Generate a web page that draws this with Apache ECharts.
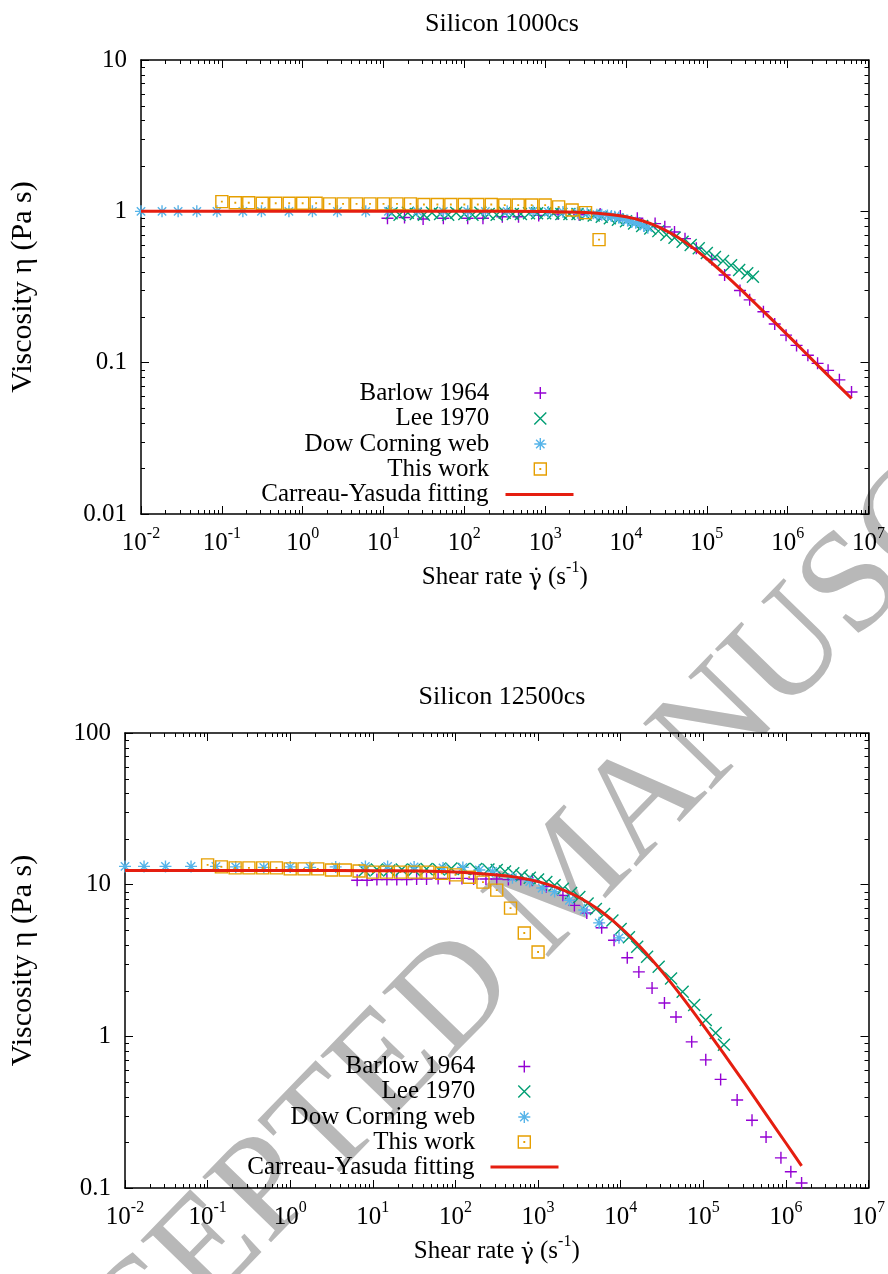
<!DOCTYPE html>
<html><head><meta charset="utf-8">
<script src="https://cdn.jsdelivr.net/npm/echarts@6/dist/echarts.min.js"></script>
<style>html,body{margin:0;padding:0;background:#fff}#c{width:888px;height:1274px}</style>
</head><body><div id="c"></div>
<script>
const FONT = 'Liberation Serif';
const titles = ['Silicon 1000cs', 'Silicon 12500cs'];
const seriesNames = ['Barlow 1964', 'Lee 1970', 'Dow Corning web', 'This work', 'Carreau-Yasuda fitting'];
const xTickLabels = ['-2','-1','0','1','2','3','4','5','6','7'];
const yTopTickLabels = ['0.01','0.1','1','10'];
const yBotTickLabels = ['0.1','1','10','100'];
const minorMult = [2,3,4,5,6,7,8,9];
const xDecades = [0.01,0.1,1,10,100,1000,10000,100000,1000000];
const yTopDecades = [0.01,0.1,1];
const yBotDecades = [0.1,1,10];

// ---------- Silicon 1000cs ----------
const topBarlow = [[11.2,0.90],[18.2,0.91],[30.9,0.89],[55.0,0.90],[110,0.90],[170,0.90],[295,0.92],[468,0.92],[832,0.94],[1445,0.96],[2630,0.95],[4786,0.96],[8511,0.93],[13800,0.90],[22910,0.83],[30200,0.79],[39810,0.73],[53700,0.66],[74130,0.57],[114800,0.48],[166000,0.38],[257000,0.30],[338800,0.26],[501200,0.217],[691800,0.18],[955000,0.152],[1288000,0.13],[1778000,0.112],[2344000,0.099],[3162000,0.089],[4365000,0.077],[6166000,0.064]];
const topLee = [[12.6,0.97],[15.8,0.95],[20.0,0.98],[25.1,0.96],[31.6,0.95],[39.8,0.98],[50.1,0.96],[63.1,0.95],[79.4,0.98],[100,0.96],[126,0.95],[158,0.98],[200,0.96],[251,0.95],[316,0.98],[398,0.96],[501,0.96],[631,0.97],[794,0.97],[1000,0.97],[1259,0.97],[1585,0.96],[1995,0.96],[2512,0.96],[3162,0.95],[3981,0.94],[5012,0.92],[6310,0.90],[7943,0.88],[10000,0.86],[12590,0.83],[15850,0.80],[19950,0.77],[25120,0.74],[31620,0.70],[39810,0.67],[50120,0.63],[63100,0.60],[79430,0.57],[100000,0.53],[125900,0.50],[158500,0.47],[199500,0.44],[251200,0.41],[316200,0.39],[371500,0.37]];
const topDow = [[0.01,1.0],[0.0182,1.0],[0.0288,1.0],[0.049,1.0],[0.087,1.0],[0.182,1.0],[0.309,1.0],[0.676,1.0],[1.32,1.0],[2.69,1.0],[6.03,1.0],[11.5,1.0],[26.3,1.0],[55.0,1.0],[110,1.0],[182,1.0],[339,1.0],[708,1.0],[1096,0.99],[1660,0.99],[2512,0.98],[3311,0.97],[4365,0.95],[5012,0.95],[5888,0.94],[6607,0.93],[7244,0.92],[8128,0.91],[9120,0.89],[10470,0.87],[11750,0.85],[13180,0.84],[14790,0.83],[16600,0.80],[18620,0.78]];
const topThisWork = [[0.1,1.16],[0.1468,1.14],[0.2154,1.14],[0.3162,1.13],[0.4642,1.13],[0.6813,1.13],[1,1.13],[1.468,1.13],[2.154,1.12],[3.162,1.12],[4.642,1.12],[6.813,1.12],[10,1.12],[14.68,1.12],[21.54,1.12],[31.62,1.11],[46.42,1.11],[68.13,1.11],[100,1.11],[146.8,1.11],[215.4,1.11],[316.2,1.10],[464.2,1.10],[681.3,1.10],[1000,1.10],[1468,1.07],[2154,1.02],[3162,0.98],[4642,0.65]];
const topFit = [[0.01,1.0],[0.1,1.0],[1,1.0],[10,1.0],[100,1.0],[1000,0.996],[3162,0.981],[6310,0.954],[10000,0.92],[15850,0.866],[25120,0.79],[39810,0.695],[63100,0.589],[100000,0.486],[158500,0.392],[251200,0.312],[398100,0.246],[631000,0.194],[1000000,0.152],[1585000,0.119],[2512000,0.093],[3981000,0.073],[6166000,0.058]];

// ---------- Silicon 12500cs ----------
const botBarlow = [[6.46,10.7],[8.51,10.7],[11.2,10.8],[14.8,10.8],[19.5,10.8],[25.7,10.8],[33.9,10.9],[44.7,10.9],[61.7,11.0],[85.1,11.0],[120,11.0],[166,10.9],[234,10.9],[316,10.9],[437,10.8],[617,10.8],[851,10.7],[1259,9.7],[2000,8.5],[2754,7.3],[3890,6.5],[5888,5.2],[8318,4.3],[12020,3.3],[16600,2.66],[23990,2.08],[33880,1.66],[46770,1.34],[72440,0.92],[107200,0.70],[162200,0.52],[257000,0.38],[389000,0.28],[575400,0.217],[871000,0.158],[1148000,0.128],[1549000,0.108]];
const botLee = [[7.94,12.4],[11.2,12.6],[15.8,12.4],[22.4,12.6],[31.6,12.5],[44.7,12.7],[63.1,12.6],[89.1,12.8],[126,12.7],[178,12.7],[251,12.6],[316,12.5],[398,12.2],[501,11.9],[631,11.5],[794,11.1],[1000,10.8],[1259,10.4],[1585,9.9],[1995,9.4],[2512,8.8],[3162,8.3],[3981,7.5],[5012,6.9],[6310,6.4],[7943,5.8],[10000,5.1],[12590,4.5],[15850,3.9],[20890,3.35],[28840,2.88],[40740,2.41],[56230,1.97],[77620,1.61],[107200,1.28],[141300,1.05],[177800,0.88]];
const botDow = [[0.01,13.2],[0.017,13.2],[0.0309,13.2],[0.063,13.2],[0.126,13.2],[0.219,13.1],[0.479,13.0],[1.0,13.1],[1.74,13.0],[3.55,13.1],[8.13,13.2],[15.1,13.2],[31.6,13.1],[70.8,12.9],[123,13.0],[195,12.5],[282,12.2],[490,11.1],[794,10.5],[1122,9.5],[1585,9.0],[2399,7.9],[3631,6.8],[5495,5.6],[9550,4.46]];
const botThisWork = [[0.1,13.5],[0.1468,13.1],[0.2154,12.9],[0.3162,12.9],[0.4642,12.9],[0.6813,12.9],[1,12.7],[1.468,12.7],[2.154,12.7],[3.162,12.5],[4.642,12.5],[6.813,12.3],[10,12.1],[14.68,12.1],[21.54,12.1],[31.62,12.1],[46.42,12.1],[68.13,11.9],[100,11.6],[146.8,11.2],[215.4,10.4],[316.2,9.2],[464.2,7.0],[681.3,4.8],[1000,3.6]];
const botFit = [[0.01,12.4],[0.1,12.4],[1,12.4],[10,12.36],[31.6,12.3],[100,12.12],[316,11.6],[562,11.17],[1000,10.48],[1778,9.5],[3162,8.23],[5623,6.75],[10000,5.22],[17780,3.82],[31620,2.67],[56230,1.80],[100000,1.18],[177800,0.765],[316200,0.491],[562300,0.312],[1000000,0.198],[1549000,0.140]];

const colors = ['#9400d3', '#009e73', '#56b4e9', '#e69f00', '#e51e10'];
const symbols = [
  'path://M0,5H10M5,0V10',
  'path://M0,0L10,10M10,0L0,10',
  'path://M0,5H10M5,0V10M1.5,1.5L8.5,8.5M8.5,1.5L1.5,8.5',
  'path://M0,0H10V10H0ZM4.8,4.8H5.2V5.2H4.8Z'
];

const MAJOR = 8, MINOR = 4;
const rich = {
  b: {fontFamily: FONT, fontSize: 25, color: '#000', lineHeight: 30, verticalAlign: 'bottom'},
  s: {fontFamily: FONT, fontSize: 16, color: '#000', lineHeight: 18, verticalAlign: 'top'}
};
const nameRich = {
  n: {fontFamily: FONT, fontSize: 25, color: '#000', lineHeight: 30, verticalAlign: 'bottom'},
  g: {fontFamily: 'DejaVu Serif', fontSize: 22, color: '#000', lineHeight: 30, verticalAlign: 'bottom'},
  s: {fontFamily: FONT, fontSize: 16, color: '#000', lineHeight: 18, verticalAlign: 'top'}
};

function xAxisPair(grid, nameGap) {
  const common = {
    type: 'log', logBase: 10, min: 0.01, max: 1e7, gridIndex: grid,
    splitLine: {show: false},
    axisLine: {show: true, lineStyle: {color: '#000', width: 1.5}},
    axisTick: {show: true, inside: true, length: MAJOR, lineStyle: {color: '#000', width: 1}}
  };
  return [
    Object.assign({}, common, {
      position: 'bottom',
      axisLabel: {margin: 12, rich: rich, formatter: v => '{b|10}{s|' + xTickLabels[Math.round(Math.log10(v)) + 2] + '}'},
      name: '{n|Shear rate }{g|γ̇}{n| (s}{s|-1}{n|)}', nameLocation: 'middle', nameGap: nameGap,
      nameMoveOverlap: false,
      nameTextStyle: {rich: nameRich}
    }),
    Object.assign({}, common, {position: 'top', axisLabel: {show: false}})
  ];
}
function yAxisPair(grid, min, max, labels, nameGap) {
  const common = {
    type: 'log', logBase: 10, min: min, max: max, gridIndex: grid,
    splitLine: {show: false},
    axisLine: {show: true, lineStyle: {color: '#000', width: 1.5}},
    axisTick: {show: true, inside: true, length: MAJOR, lineStyle: {color: '#000', width: 1}}
  };
  const lmin = Math.round(Math.log10(min));
  return [
    Object.assign({}, common, {
      position: 'left',
      axisLabel: {margin: 14, fontFamily: FONT, fontSize: 25, color: '#000',
        formatter: v => labels[Math.round(Math.log10(v)) - lmin]},
      name: 'Viscosity η (Pa s)', nameLocation: 'middle', nameRotate: 90, nameGap: nameGap,
      nameMoveOverlap: false,
      nameTextStyle: {fontFamily: FONT, fontSize: 30, color: '#000'}
    }),
    Object.assign({}, common, {position: 'right', axisLabel: {show: false}})
  ];
}

function minorXSeries(xi, yi) {
  const data = [];
  xDecades.forEach(d => minorMult.forEach(m => data.push([m * d, 1])));
  return {
    type: 'custom', xAxisIndex: xi, yAxisIndex: yi, silent: true, z: 5, data: data,
    renderItem: (params, api) => {
      const cs = params.coordSys;
      const px = Math.round(api.coord([api.value(0), api.value(1)])[0]) + 0.5;
      const yb = cs.y + cs.height, yt = cs.y;
      return {type: 'group', children: [
        {type: 'line', shape: {x1: px, y1: yb, x2: px, y2: yb - MINOR}, style: {stroke: '#000', lineWidth: 1}},
        {type: 'line', shape: {x1: px, y1: yt, x2: px, y2: yt + MINOR}, style: {stroke: '#000', lineWidth: 1}}
      ]};
    }
  };
}
function minorYSeries(xi, yi, decades) {
  const data = [];
  decades.forEach(d => minorMult.forEach(m => data.push([1, m * d])));
  return {
    type: 'custom', xAxisIndex: xi, yAxisIndex: yi, silent: true, z: 5, data: data,
    renderItem: (params, api) => {
      const cs = params.coordSys;
      const py = Math.round(api.coord([api.value(0), api.value(1)])[1]) + 0.5;
      const xl = cs.x, xr = cs.x + cs.width;
      return {type: 'group', children: [
        {type: 'line', shape: {x1: xl, y1: py, x2: xl + MINOR, y2: py}, style: {stroke: '#000', lineWidth: 1}},
        {type: 'line', shape: {x1: xr, y1: py, x2: xr - MINOR, y2: py}, style: {stroke: '#000', lineWidth: 1}}
      ]};
    }
  };
}

function dataSeries(xi, yi, sets) {
  const out = [];
  for (let i = 0; i < 4; i++) {
    out.push({
      type: 'scatter', name: seriesNames[i], xAxisIndex: xi, yAxisIndex: yi,
      data: sets[i], symbol: symbols[i], symbolSize: 12, z: 2 + i * 0.1,
      itemStyle: {color: 'rgba(0,0,0,0)', borderColor: colors[i], borderWidth: 1.4, opacity: 1}
    });
  }
  out.push({
    type: 'line', name: seriesNames[4], xAxisIndex: xi, yAxisIndex: yi,
    data: sets[4], showSymbol: false, symbol: 'none', smooth: 0.3, z: 3,
    lineStyle: {color: colors[4], width: 3}, itemStyle: {color: colors[4]}
  });
  return out;
}

// rightLine / rightSym: distance from chart right edge to icon right edge
function legends(rightLine, rightSym, rowTops, padLine, padSym) {
  return seriesNames.map((n, i) => {
    const isLine = i === 4;
    return {
      data: [n],
      right: isLine ? rightLine : rightSym, top: rowTops[i],
      orient: 'horizontal', align: 'right',
      itemWidth: isLine ? 68 : 12, itemHeight: 12, itemGap: 0, padding: 0, selectedMode: false,
      textStyle: {fontFamily: FONT, fontSize: 25, color: '#000', lineHeight: 26, padding: [0, isLine ? padLine : padSym, 0, 0]},
      itemStyle: isLine ? {color: 'rgba(0,0,0,0)', borderWidth: 0, opacity: 0} : {color: 'rgba(0,0,0,0)', borderColor: colors[i], borderWidth: 1.4},
      lineStyle: isLine ? {color: colors[4], width: 3, opacity: 1} : undefined
    };
  });
}

const xa0 = xAxisPair(0, 46), xa1 = xAxisPair(1, 46);
const ya0 = yAxisPair(0, 0.01, 10, yTopTickLabels, 103);
const ya1 = yAxisPair(1, 0.1, 100, yBotTickLabels, 87);

const option = {
  animation: false,
  backgroundColor: '#fff',
  textStyle: {fontFamily: FONT},
  title: [
    {text: titles[0], left: 497, top: 6, textAlign: 'center', textStyle: {fontFamily: FONT, fontSize: 26, fontWeight: 'normal', color: '#000'}},
    {text: titles[1], left: 497, top: 679, textAlign: 'center', textStyle: {fontFamily: FONT, fontSize: 26, fontWeight: 'normal', color: '#000'}}
  ],
  grid: [
    {left: 140, top: 60, width: 729, height: 454},
    {left: 124, top: 733, width: 746, height: 455}
  ],
  xAxis: [xa0[0], xa0[1], xa1[0], xa1[1]].map((a, i) => Object.assign(a, {gridIndex: i < 2 ? 0 : 1})),
  yAxis: [ya0[0], ya0[1], ya1[0], ya1[1]].map((a, i) => Object.assign(a, {gridIndex: i < 2 ? 0 : 1})),
  legend: legends(313, 341, [380, 405.5, 431, 456, 481.5], 12, 40)
    .concat(legends(328, 357, [1053.5, 1078.5, 1104, 1129, 1154], 11, 38)),
  graphic: [{
    type: 'text', x: 570, y: 880, rotation: 0.8, z: -100, silent: true,
    style: {text: 'ACCEPTED MANUSCRIPT', font: '145px "Liberation Serif"', fill: '#b8b8b8', align: 'center', verticalAlign: 'middle'}
  }],
  series: [].concat(
    dataSeries(0, 0, [topBarlow, topLee, topDow, topThisWork, topFit]),
    dataSeries(2, 2, [botBarlow, botLee, botDow, botThisWork, botFit]),
    [minorXSeries(0, 0), minorYSeries(0, 0, yTopDecades), minorXSeries(2, 2), minorYSeries(2, 2, yBotDecades)]
  )
};
const chart = echarts.init(document.getElementById('c'), null, {renderer: 'canvas'});
chart.setOption(option);
</script></body></html>
